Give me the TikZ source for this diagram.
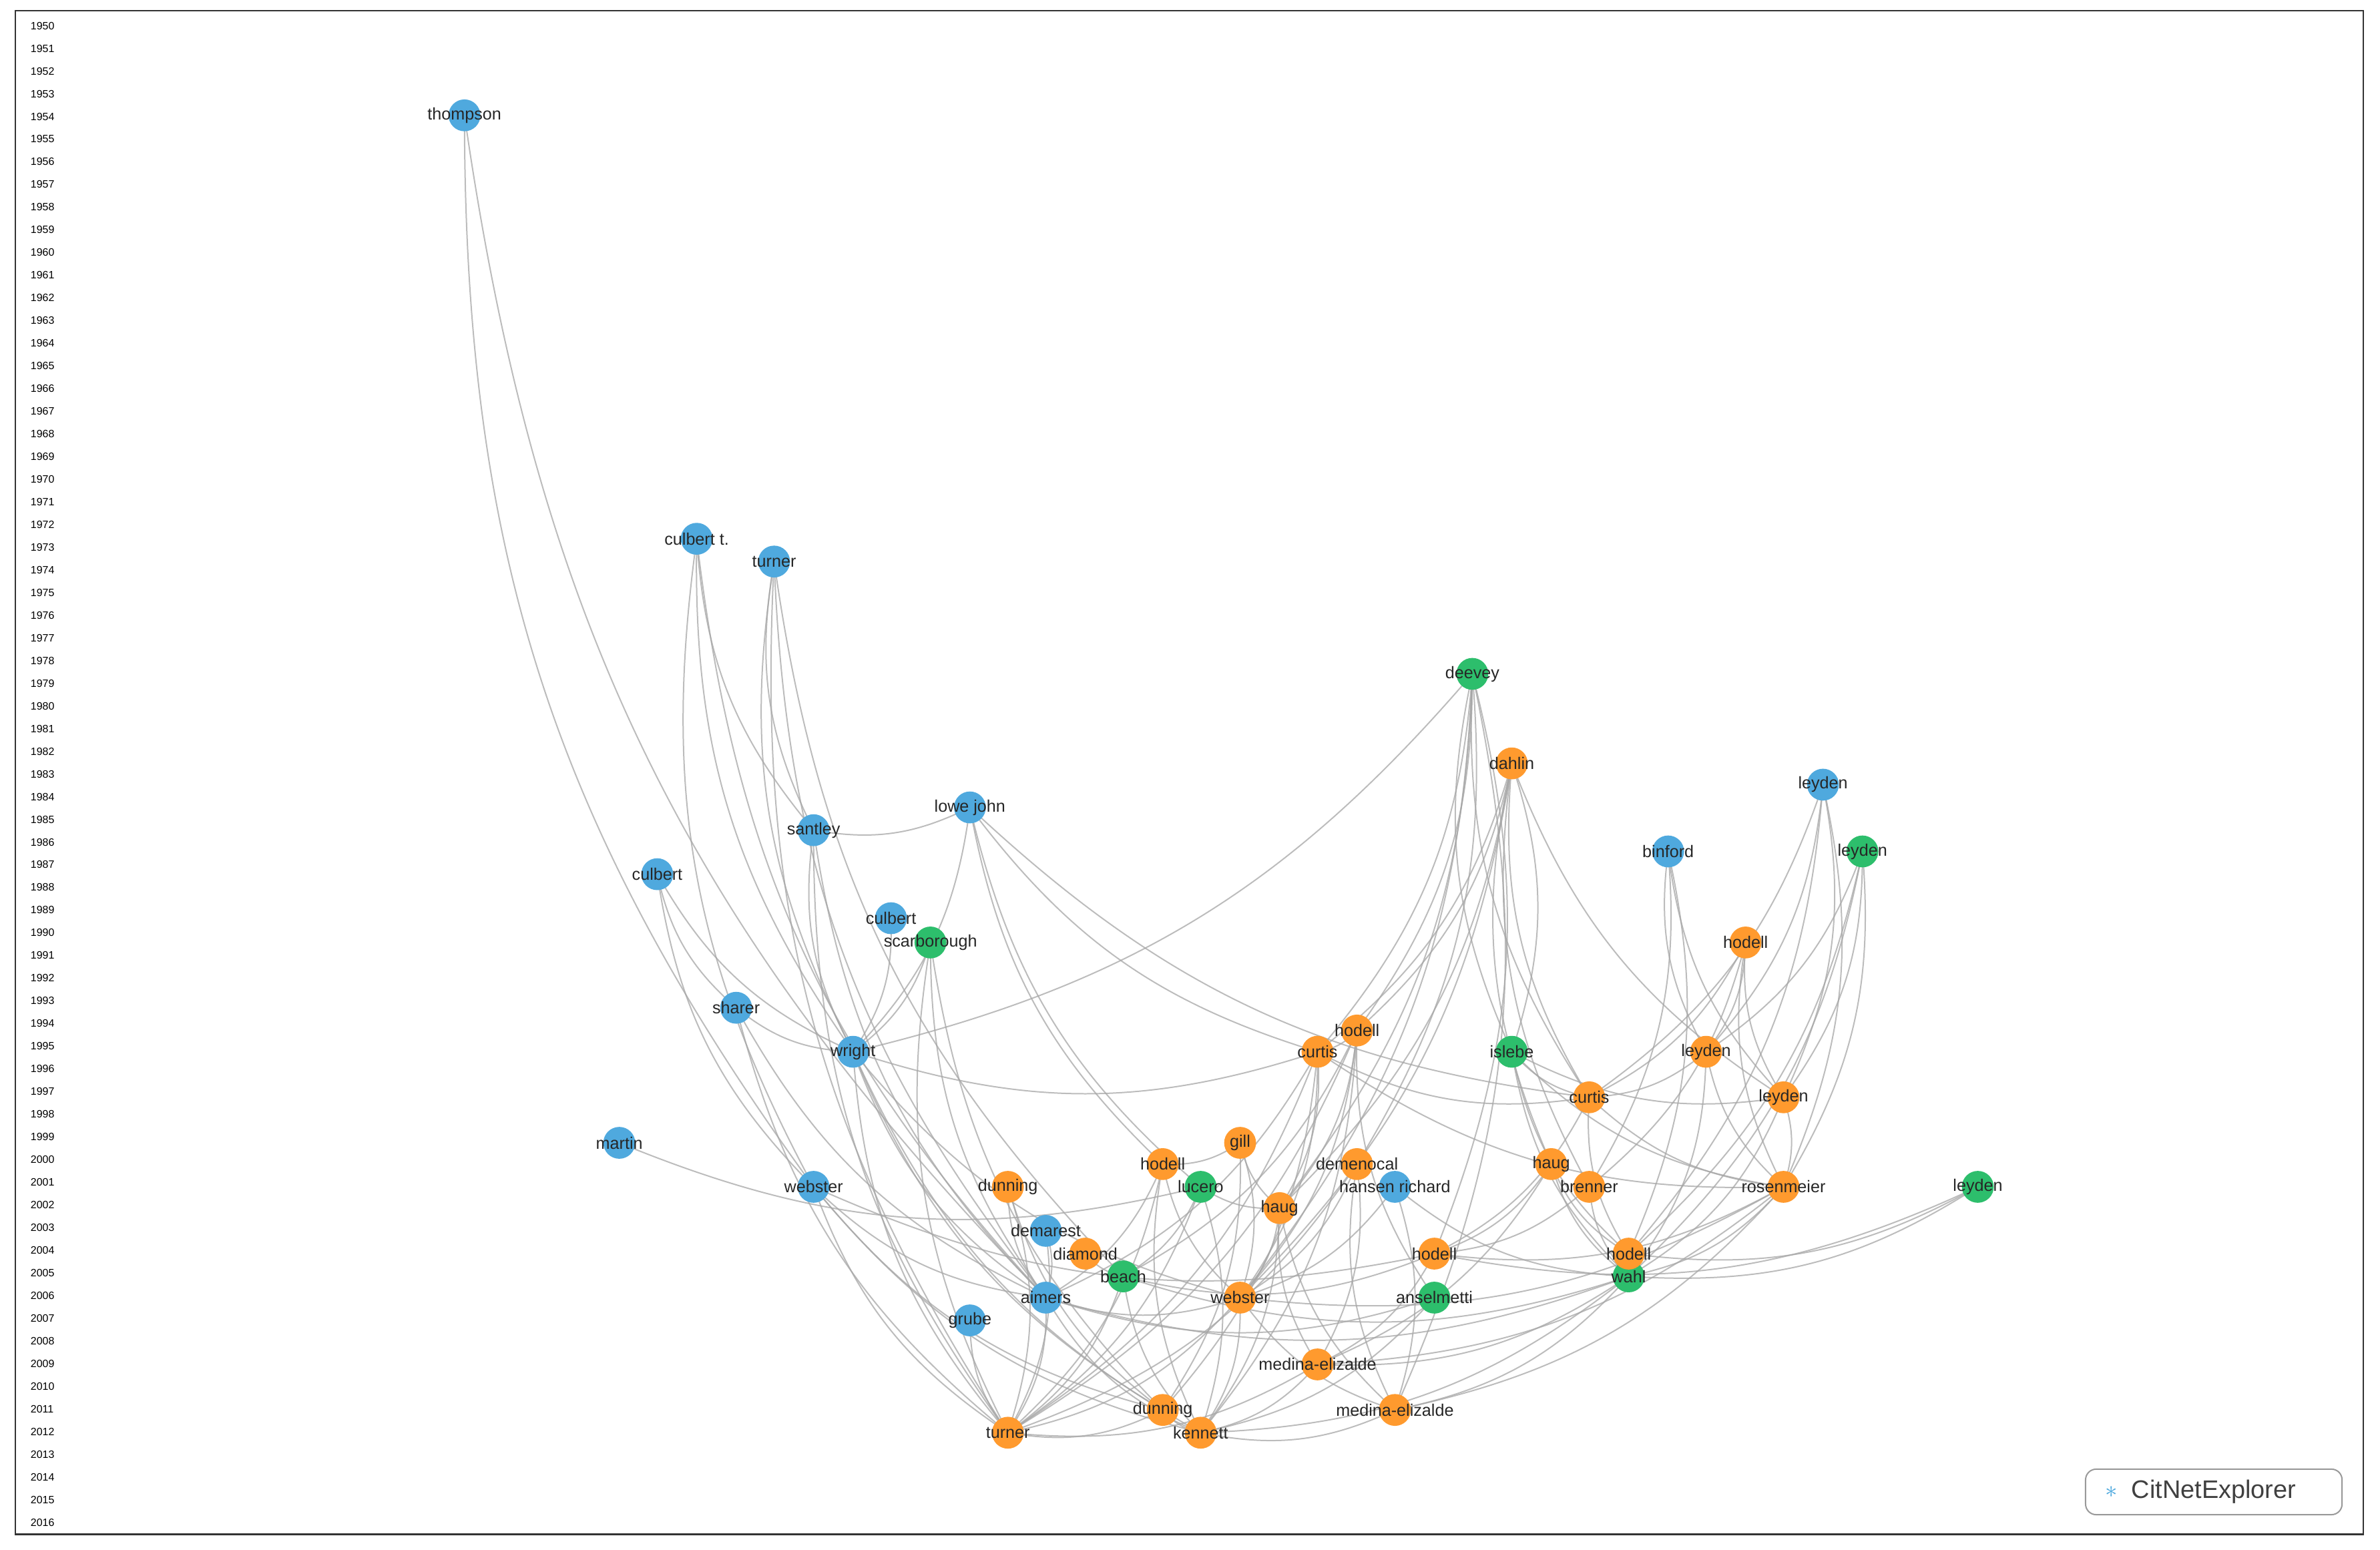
\documentclass[tikz,border=0pt]{standalone}
\usepackage{fontspec}
\setmainfont{Liberation Sans}
\begin{document}
\begin{tikzpicture}[x=0.02cm,y=-0.02cm,
 n/.style={circle,minimum size=0.42cm,inner sep=0pt,draw=none},
 B/.style={n,fill=blueN}, G/.style={n,fill=greenN}, O/.style={n,fill=orangeN},
 lab/.style={font=\fontsize{6.3}{7}\selectfont,text=black!85},
 yr/.style={font=\fontsize{4}{5}\selectfont,anchor=west},
 e/.style={draw=black!35,line width=0.5pt,opacity=0.75}]
\definecolor{blueN}{HTML}{4FA9DE}\definecolor{greenN}{HTML}{2DBE6C}\definecolor{orangeN}{HTML}{FF9A2E}
\useasboundingbox (0,0) rectangle (1568,1021);
\draw[black!80,line width=0.6pt] (10,7) rectangle (1557,1011);
\foreach \y in {1950,...,2016}{\node[yr] at (14,{17+(\y-1950)*14.94}) {\y};}
% nodes
\foreach \nm/\x/\y/\s in {b1/306/76/B,b2/459/355/B,b3/510/370/B,b4/536/547/B,b5/639/532/B,b6/433/576/B,b7/587/605/B,b8/485/664/B,b9/562/693/B,b10/408/753/B,b11/536/782/B,b12/689/811/B,b13/689/855/B,b14/639/870/B,b15/919/782/B,b16/1201/517/B,b17/1099/561/B,
g1/613/621/G,g2/970/444/G,g3/996/693/G,g4/791/782/G,g5/740/841/G,g6/945/855/G,g7/1073/841/G,g8/1227/561/G,g9/1303/782/G,
o1/996/503/O,o2/1150/621/O,o3/894/679/O,o4/868/693/O,o5/1124/693/O,o6/1047/723/O,o7/1175/723/O,o8/817/753/O,o9/766/767/O,o10/894/767/O,o11/1022/767/O,o12/664/782/O,o13/843/796/O,o14/1047/782/O,o15/1175/782/O,o16/715/826/O,o17/945/826/O,o18/1073/826/O,o19/817/855/O,o20/868/899/O,o21/766/929/O,o22/919/929/O,o23/664/944/O,o24/791/944/O}
 {\coordinate (\nm) at (\x,\y);}
% edges
\newcommand\E[2]{\path[e] let \p1=(#1),\p2=(#2) in (#1) to[bend right={ifthenelse(\x2>\x1,18,-18)}] (#2);}
\usetikzlibrary{calc}
\foreach \a/\b in {b1/b11,b1/b13,b2/b4,b2/b9,b2/b11,b2/b13,b3/b4,b3/b9,b3/b13,b3/o23,b3/g5,b6/b8,b6/b9,b6/b11,b4/b5,b4/b9,b4/o23,b4/b13,b5/b9,b5/g4,b5/o4,b5/o6,b5/o9,b8/b9,b8/o23,b8/b13,b7/b9,g1/b9,g1/o23,g1/b13,g1/o21,b9/o4,b9/o23,b9/o24,b9/o21,b9/b13,b9/o19,b10/g4,b11/o23,b11/o24,b11/o21,b11/b13,b11/o17,
g2/b9,g2/o4,g2/o3,g2/g3,g2/o6,g2/o19,g2/o13,g2/o10,g2/o17,g2/o22,o1/o3,o1/o4,o1/g3,o1/o11,o1/o14,o1/o19,o1/o13,o1/o6,o1/o7,
b16/o5,b16/o7,b16/o15,b16/o6,b16/o18,b17/o5,b17/o7,b17/o18,b17/o14,g8/o5,g8/o7,g8/o15,g8/o18,g8/g7,o2/o5,o2/o7,o2/o15,o2/o6,o2/o14,
o3/o4,o3/o19,o3/o23,o3/o24,o3/o13,o3/g6,o3/g5,o4/o6,o4/o15,o4/o19,o4/o23,o4/o21,o4/o13,o4/b13,g3/o6,g3/o7,g3/o15,g3/o18,g3/g7,
o5/o6,o5/o15,o5/g7,o6/o15,o6/o18,o6/o17,o7/o15,o7/g7,o8/o19,o8/o21,o8/o13,o8/o9,o9/o23,o9/o19,o9/b13,o9/o24,o10/o19,o10/o22,o10/o20,o10/o23,
o11/o17,o11/o18,o11/g7,o11/o20,o12/o23,o12/o21,o12/b13,g4/o23,g4/o24,g4/o13,g4/g5,b15/o19,b15/g7,b15/o22,o13/o19,o13/o22,o13/o24,o13/o20,
o14/g7,o14/o17,o15/g7,o15/o17,o15/o19,o15/o20,o15/o22,g9/g7,g9/o18,g9/o17,b12/b13,b12/o23,o16/g5,g5/o23,g5/o24,g5/o17,g5/g7,
b13/g7,b13/o23,b13/o24,b13/o19,b13/g6,b14/o23,o19/o24,o19/o23,o19/o22,o17/o20,g7/o22,g7/o20,g7/o24,o20/o24,o20/o23,o21/o23,o21/o24,o22/o24,o18/g7,g6/o24}
 {\E{\a}{\b}}
% draw nodes
\foreach \nm/\s in {b1/B,b2/B,b3/B,b4/B,b5/B,b6/B,b7/B,b8/B,b9/B,b10/B,b11/B,b12/B,b13/B,b14/B,b15/B,b16/B,b17/B,g1/G,g2/G,g3/G,g4/G,g5/G,g6/G,g7/G,g8/G,g9/G,o1/O,o2/O,o3/O,o4/O,o5/O,o6/O,o7/O,o8/O,o9/O,o10/O,o11/O,o12/O,o13/O,o14/O,o15/O,o16/O,o17/O,o18/O,o19/O,o20/O,o21/O,o22/O,o23/O,o24/O}
 {\node[\s] (N\nm) at (\nm) {};}
% labels
\foreach \nm/\t in {b1/thompson,b2/culbert t.,b3/turner,b4/santley,b5/lowe john,b6/culbert,b7/culbert,b8/sharer,b9/wright,b10/martin,b11/webster,b12/demarest,b13/aimers,b14/grube,b15/hansen richard,b16/leyden,b17/binford,g1/scarborough,g2/deevey,g3/islebe,g4/lucero,g5/beach,g6/anselmetti,g7/wahl,g8/leyden,g9/leyden,o1/dahlin,o2/hodell,o3/hodell,o4/curtis,o5/leyden,o6/curtis,o7/leyden,o8/gill,o9/hodell,o10/demenocal,o11/haug,o12/dunning,o13/haug,o14/brenner,o15/rosenmeier,o16/diamond,o17/hodell,o18/hodell,o19/webster,o20/medina-elizalde,o21/dunning,o22/medina-elizalde,o23/turner,o24/kennett}
 {\node[lab] (L\nm) at (\nm) {\t};}
% logo
\draw[black!40,rounded corners=4pt,line width=0.5pt] (1374,968) rectangle (1543,998);
\node[font=\fontsize{9.5}{11}\selectfont,text=black!75,anchor=west] (logo) at (1398,983) {CitNetExplorer};
\node[font=\fontsize{9}{10}\selectfont,text=blueN] (icon) at (1391,983) {$\ast$};
\end{tikzpicture}
\end{document}
